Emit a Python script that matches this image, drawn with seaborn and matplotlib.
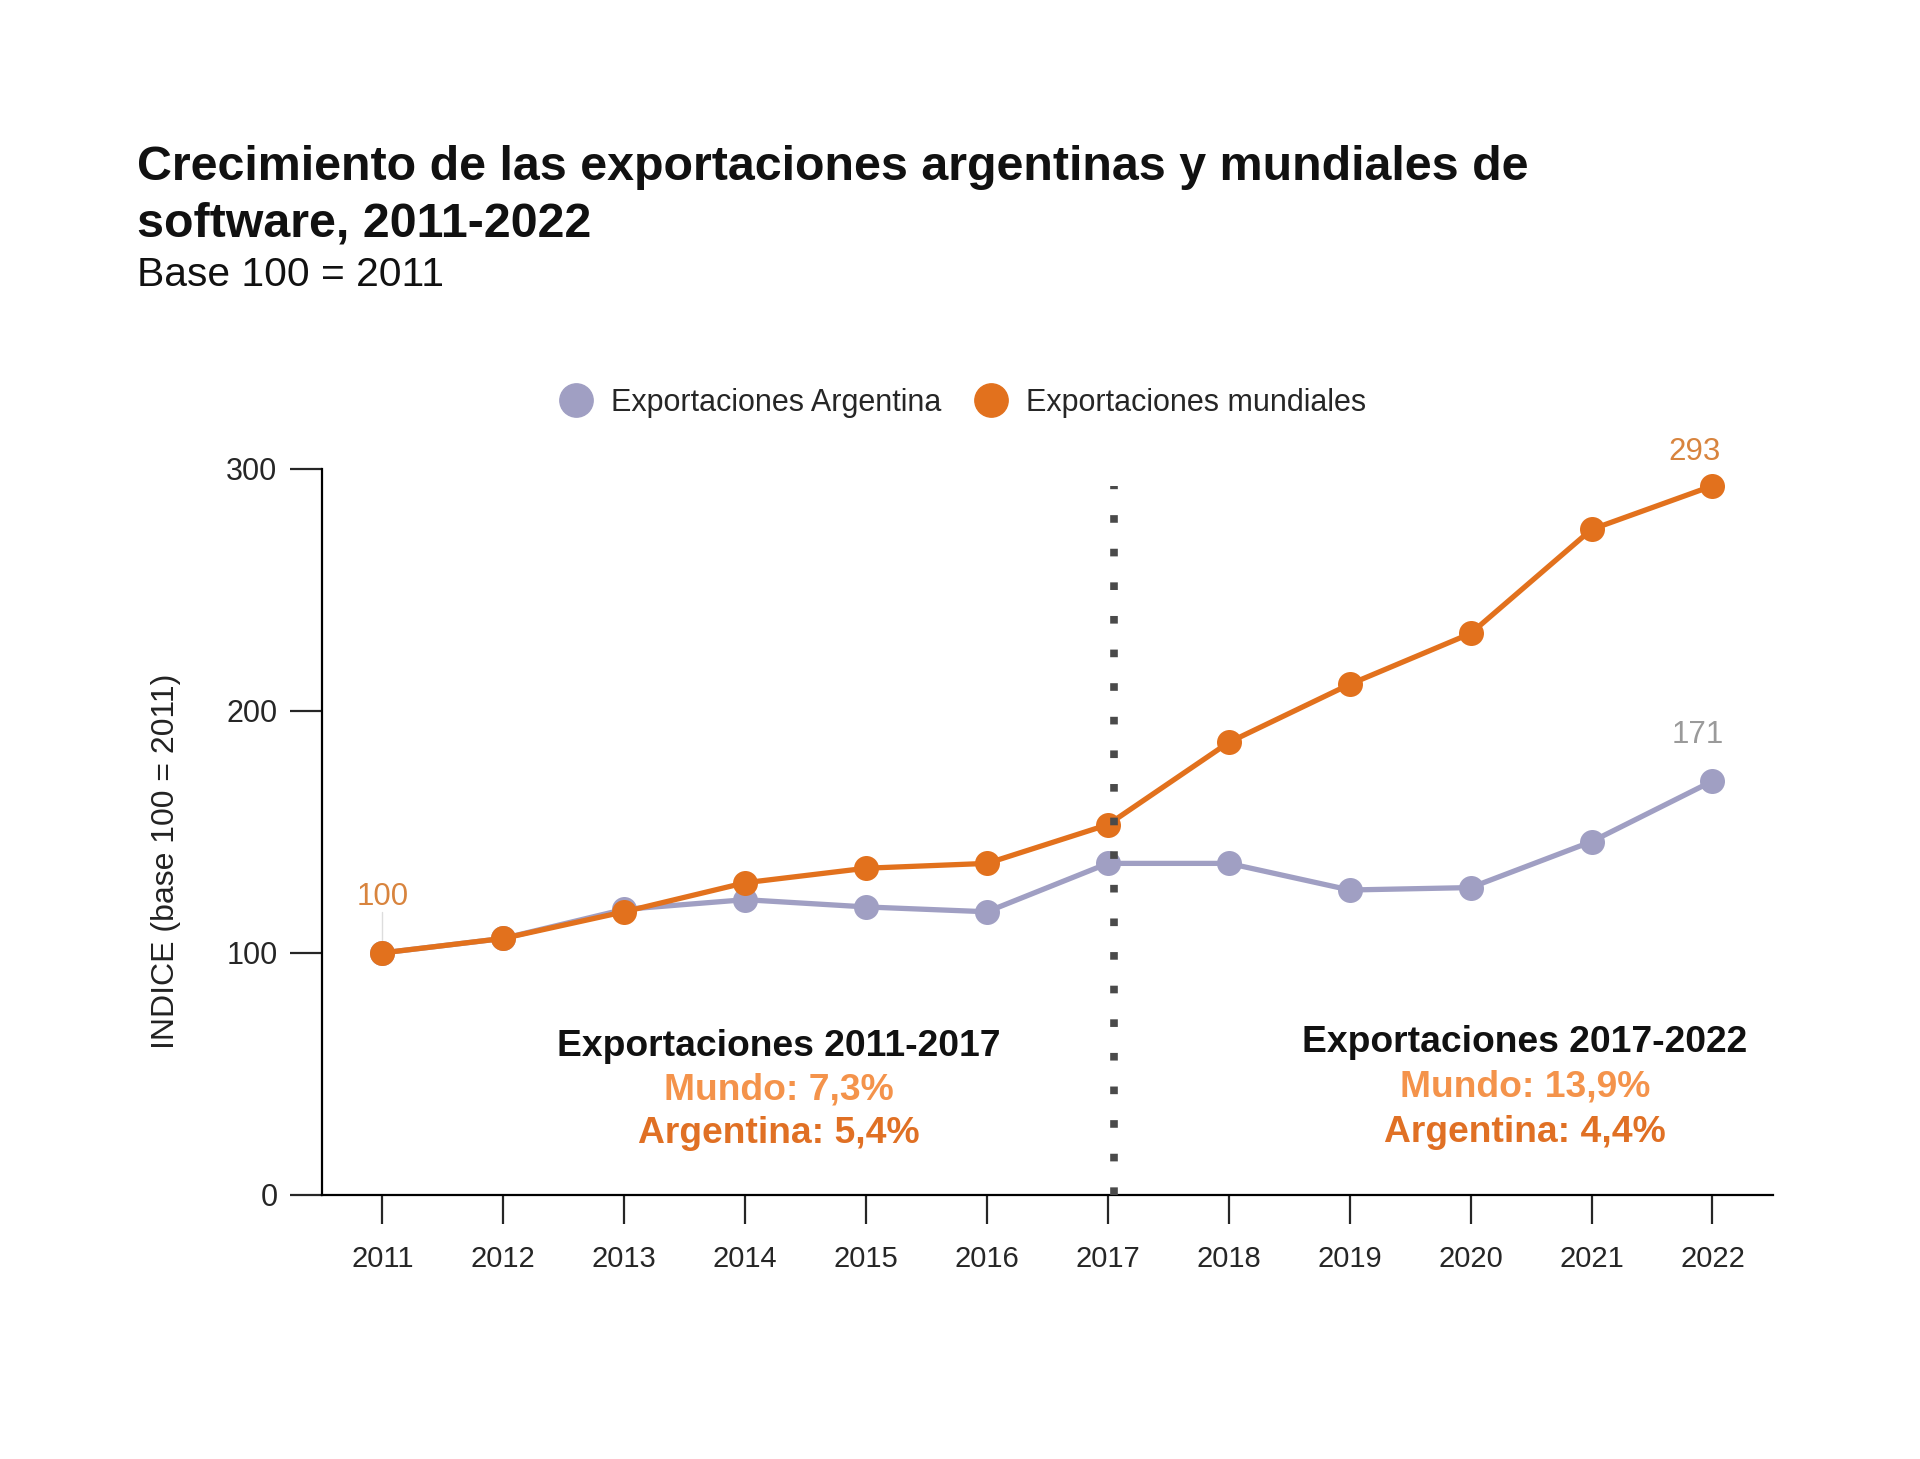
import matplotlib
matplotlib.use("Agg")
import matplotlib.pyplot as plt
from matplotlib.lines import Line2D
import seaborn as sns
import pandas as pd

# data (index, base 100 = 2011)
years = list(range(2011, 2023))
argentina = [100, 106, 118, 122, 119, 117, 137, 137, 126, 127, 146, 171]
mundo = [100, 106, 117, 129, 135, 137, 153, 187, 211, 232, 275, 293]
series_names = ["Exportaciones Argentina", "Exportaciones mundiales"]
y_ticks = [0, 100, 200, 300]

GRAY = "#A09FC3"
ORANGE = "#E2711D"

df = pd.DataFrame({
    "anio": years * 2,
    "valor": argentina + mundo,
    "serie": [series_names[0]] * len(years) + [series_names[1]] * len(years),
})

sns.set_style("white")
plt.rcParams["font.family"] = ["Liberation Sans", "DejaVu Sans"]

fig = plt.figure(figsize=(19.2, 14.59), dpi=100)
ax = fig.add_axes([0.1677, 0.181, 0.7557, 0.4976])

sns.lineplot(data=df, x="anio", y="valor", hue="serie",
             palette={series_names[0]: GRAY, series_names[1]: ORANGE},
             marker="o", markersize=18, markeredgewidth=0, linewidth=3.8,
             legend=False, ax=ax)

# dotted separator at 2017
ax.vlines(2017.05, 0, mundo[-1], colors="#4A4A4A", linewidth=5.5,
          linestyles=(0, (1, 3.4)), capstyle="butt", zorder=5)

ax.set_xlim(2010.5, 2022.5)
ax.set_ylim(0, 300)
ax.set_xticks(years)
ax.set_yticks(y_ticks)
ax.set_xlabel("")
ax.set_ylabel("INDICE (base 100 = 2011)", fontsize=23, color="#222222")
ax.yaxis.set_label_coords(-0.097, 0.46)

for s in ["top", "right"]:
    ax.spines[s].set_visible(False)
for s in ["left", "bottom"]:
    ax.spines[s].set_color("black")
    ax.spines[s].set_linewidth(1.6)
ax.tick_params(axis="y", length=23, width=1.6, pad=9, labelsize=22, left=True)
ax.tick_params(axis="x", length=21, width=1.6, pad=15, labelsize=21, bottom=True)

# value labels
ax.plot([years[0], years[0]], [103, 117], color="#DDDDDD", linewidth=1, zorder=1)
ax.text(years[0], 123, str(mundo[0]), ha="center", va="center", fontsize=22.5, color="#D8843E")
ax.text(years[-1] - 0.15, 307, str(mundo[-1]), ha="center", va="center", fontsize=22.5, color="#D8843E")
ax.text(years[-1] - 0.12, 190, str(argentina[-1]), ha="center", va="center", fontsize=22.5, color="#9A9A9A")

# growth annotations
for xc, ys, head, m, a in [(2014.28, (61.5, 43.5, 25.3), "Exportaciones 2011-2017", "Mundo: 7,3%", "Argentina: 5,4%"),
                           (2020.45, (62.8, 44.4, 25.8), "Exportaciones 2017-2022", "Mundo: 13,9%", "Argentina: 4,4%")]:
    ax.text(xc, ys[0], head, ha="center", va="center", fontsize=26.8, fontweight="bold", color="#111111")
    ax.text(xc, ys[1], m, ha="center", va="center", fontsize=26.8, fontweight="bold", color="#F4934B")
    ax.text(xc, ys[2], a, ha="center", va="center", fontsize=26.8, fontweight="bold", color="#E07024")

# legend
handles = [Line2D([], [], linestyle="none", marker="o", markersize=24, color=GRAY),
           Line2D([], [], linestyle="none", marker="o", markersize=24, color=ORANGE)]
fig.legend(handles, series_names, loc="center", bbox_to_anchor=(0.501, 0.724), ncol=2,
           frameon=False, fontsize=22, handletextpad=0.55, columnspacing=1.0, handlelength=1.2)

# titles
fig.text(0.0714, 1 - 180 / 1459, "Crecimiento de las exportaciones argentinas y mundiales de",
         fontsize=34.8, fontweight="bold", va="baseline", ha="left", color="#111111")
fig.text(0.0714, 1 - 236 / 1459, "software, 2011-2022",
         fontsize=34.8, fontweight="bold", va="baseline", ha="left", color="#111111")
fig.text(0.0714, 1 - 286 / 1459, "Base 100 = 2011",
         fontsize=29.3, va="baseline", ha="left", color="#111111")

fig.savefig("out.png", dpi=100, facecolor="white")
